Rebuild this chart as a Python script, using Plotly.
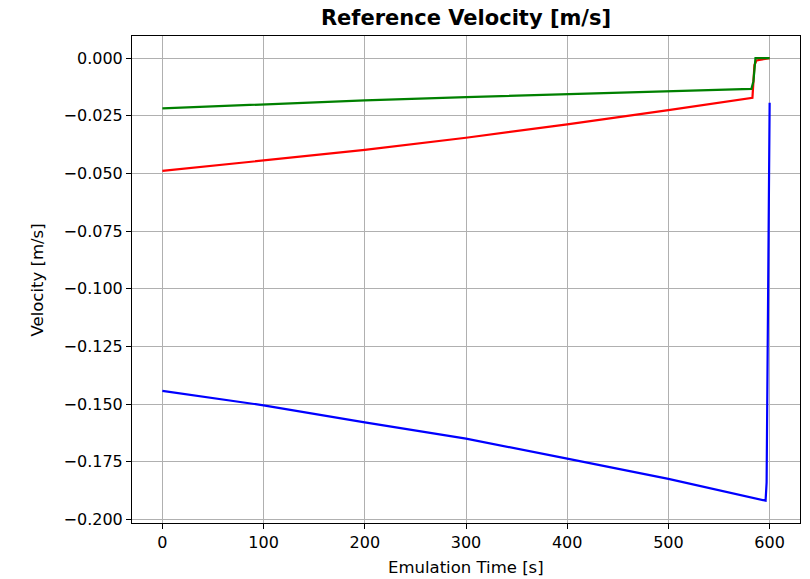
import plotly.graph_objects as go

# Data
t_green = [0, 100, 200, 300, 400, 500, 578, 582, 584, 586, 600]
v_green = [-0.0218, -0.0200, -0.0183, -0.0169, -0.0156, -0.0146, -0.0136, -0.0133, -0.0100, 0.0, 0.0]

t_red = [0, 100, 200, 300, 400, 500, 583, 585, 587, 600]
v_red = [-0.0489, -0.0445, -0.0398, -0.0345, -0.0287, -0.0225, -0.0172, -0.0030, -0.0010, 0.0]

t_blue = [0, 100, 200, 300, 400, 500, 596, 597, 600]
v_blue = [-0.1442, -0.1505, -0.1579, -0.1649, -0.1736, -0.1824, -0.1918, -0.1840, -0.0193]

x_ticks = [0, 100, 200, 300, 400, 500, 600]
y_ticks = [0.0, -0.025, -0.05, -0.075, -0.1, -0.125, -0.15, -0.175, -0.2]

fig = go.Figure()
fig.add_trace(go.Scatter(x=t_blue, y=v_blue, mode="lines", line=dict(color="blue", width=2.2), showlegend=False))
fig.add_trace(go.Scatter(x=t_red, y=v_red, mode="lines", line=dict(color="red", width=2.2), showlegend=False))
fig.add_trace(go.Scatter(x=t_green, y=v_green, mode="lines", line=dict(color="green", width=2.2), showlegend=False))

font = "DejaVu Sans"
axis_common = dict(
    showgrid=True, gridcolor="#b0b0b0", gridwidth=1,
    showline=True, linecolor="black", linewidth=1, mirror=True,
    ticks="outside", ticklen=5, tickcolor="black",
    tickfont=dict(family=font, size=16, color="black"),
    zeroline=False, automargin=False,
)
L, R, T, B = 132, 10, 36, 56
W, H = 810, 579
pw, ph = W - L - R, H - T - B
fig.update_layout(
    width=W, height=H,
    margin=dict(l=L, r=R, t=T, b=B),
    paper_bgcolor="white", plot_bgcolor="white",
    title=dict(text="<b>Reference Velocity [m/s]</b>", x=(L + W - R) / 2 / W, xanchor="center",
               y=1 - 18 / H, yanchor="middle",
               font=dict(family=font, size=21, color="black")),
    xaxis=dict(range=[-30, 630], tickvals=x_ticks, ticktext=[str(v) for v in x_ticks], **axis_common),
    yaxis=dict(range=[-0.2015, 0.0096], tickvals=y_ticks, tickformat=".3f", **axis_common),
    annotations=[
        dict(text="Emulation Time [s]", xref="paper", yref="paper", x=0.5, y=-(567 - (T + ph)) / ph,
             xanchor="center", yanchor="middle", showarrow=False,
             font=dict(family=font, size=16.5, color="black")),
        dict(text="Velocity [m/s]", xref="paper", yref="paper", x=-(L - 37) / pw, y=0.5,
             xanchor="center", yanchor="middle", textangle=-90, showarrow=False,
             font=dict(family=font, size=16.5, color="black")),
    ],
)
fig.write_html("out.html")
